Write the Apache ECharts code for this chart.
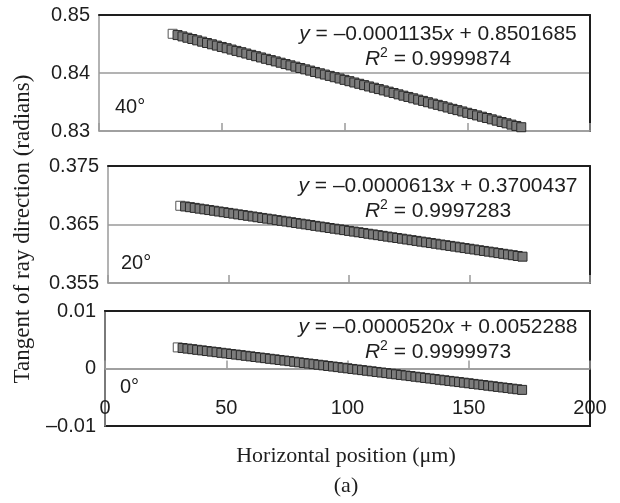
<!DOCTYPE html>
<html>
<head>
<meta charset="utf-8">
<script src="https://cdn.jsdelivr.net/npm/echarts@6/dist/echarts.min.js"></script>
<style>
  html, body { margin: 0; padding: 0; background: #fff; }
  #main { width: 620px; height: 503px; }
</style>
</head>
<body>
<div id="main"></div>
<script>
// horizontal position (um) of each measured point
var xPos = [30, 32, 34, 36, 38, 40, 42, 44, 46, 48,
  50, 52, 54, 56, 58, 60, 62, 64, 66, 68,
  70, 72, 74, 76, 78, 80, 82, 84, 86, 88,
  90, 92, 94, 96, 98, 100, 102, 104, 106, 108,
  110, 112, 114, 116, 118, 120, 122, 124, 126, 128,
  130, 132, 134, 136, 138, 140, 142, 144, 146, 148,
  150, 152, 154, 156, 158, 160, 162, 164, 166, 168,
  170, 172];

// tangent of ray direction, 40 degrees
var tan40 = [0.84676, 0.84654, 0.84631, 0.84608, 0.84586, 0.84563, 0.84540, 0.84517, 0.84495, 0.84472,
  0.84449, 0.84427, 0.84404, 0.84381, 0.84359, 0.84336, 0.84313, 0.84290, 0.84268, 0.84245,
  0.84222, 0.84200, 0.84177, 0.84154, 0.84132, 0.84109, 0.84086, 0.84063, 0.84041, 0.84018,
  0.83995, 0.83973, 0.83950, 0.83927, 0.83905, 0.83882, 0.83859, 0.83836, 0.83814, 0.83791,
  0.83768, 0.83746, 0.83723, 0.83700, 0.83678, 0.83655, 0.83632, 0.83609, 0.83587, 0.83564,
  0.83541, 0.83519, 0.83496, 0.83473, 0.83451, 0.83428, 0.83405, 0.83382, 0.83360, 0.83337,
  0.83314, 0.83292, 0.83269, 0.83246, 0.83224, 0.83201, 0.83178, 0.83155, 0.83133, 0.83110,
  0.83087, 0.83065];

// 20 degrees
var tan20 = [0.36820, 0.36808, 0.36796, 0.36784, 0.36771, 0.36759, 0.36747, 0.36735, 0.36722, 0.36710,
  0.36698, 0.36686, 0.36673, 0.36661, 0.36649, 0.36637, 0.36624, 0.36612, 0.36600, 0.36588,
  0.36575, 0.36563, 0.36551, 0.36539, 0.36526, 0.36514, 0.36502, 0.36490, 0.36477, 0.36465,
  0.36453, 0.36440, 0.36428, 0.36416, 0.36404, 0.36391, 0.36379, 0.36367, 0.36355, 0.36342,
  0.36330, 0.36318, 0.36306, 0.36293, 0.36281, 0.36269, 0.36257, 0.36244, 0.36232, 0.36220,
  0.36207, 0.36195, 0.36183, 0.36171, 0.36158, 0.36146, 0.36134, 0.36122, 0.36109, 0.36097,
  0.36085, 0.36073, 0.36060, 0.36048, 0.36036, 0.36024, 0.36011, 0.35999, 0.35987, 0.35975,
  0.35962, 0.35950];

// 0 degrees
var tan0 = [0.00367, 0.00356, 0.00346, 0.00336, 0.00325, 0.00315, 0.00304, 0.00294, 0.00284, 0.00273,
  0.00263, 0.00252, 0.00242, 0.00232, 0.00221, 0.00211, 0.00200, 0.00190, 0.00180, 0.00169,
  0.00159, 0.00148, 0.00138, 0.00128, 0.00117, 0.00107, 0.00096, 0.00086, 0.00076, 0.00065,
  0.00055, 0.00044, 0.00034, 0.00024, 0.00013, 0.00003, -0.00008, -0.00018, -0.00028, -0.00039,
  -0.00049, -0.00060, -0.00070, -0.00080, -0.00091, -0.00101, -0.00112, -0.00122, -0.00132, -0.00143,
  -0.00153, -0.00164, -0.00174, -0.00184, -0.00195, -0.00205, -0.00216, -0.00226, -0.00236, -0.00247,
  -0.00257, -0.00268, -0.00278, -0.00288, -0.00299, -0.00309, -0.00320, -0.00330, -0.00340, -0.00351,
  -0.00361, -0.00372];

// axis limits [min, max, interval]
var yRange40 = [0.83, 0.85, 0.01];
var yRange20 = [0.355, 0.375, 0.01];
var yRange0 = [-0.01, 0.01, 0.01];
var xRange = [0, 200, 50];

// fit text per panel
var fitSlope = ['0.0001135', '0.0000613', '0.0000520'];
var fitIntercept = ['0.8501685', '0.3700437', '0.0052288'];
var fitR2 = ['0.9999874', '0.9997283', '0.9999973'];
var angleLabels = ['40°', '20°', '0°'];

var sans = '"Liberation Sans", Arial, sans-serif';
var serif = '"Liberation Serif", "Times New Roman", serif';
var gray = '#9a9a9a';
var dark = '#1e1e1e';

var myChart = echarts.init(document.getElementById('main'), null, { renderer: 'canvas' });

var grids = [
  { left: 99, top: 15, width: 491, height: 116 },
  { left: 108, top: 166, width: 482, height: 117 },
  // lowest panel keeps a dark bottom border from the grid itself
  { left: 105, top: 311, width: 485, height: 115, show: true, borderColor: dark, borderWidth: 2 }
];
var yRanges = [yRange40, yRange20, yRange0];
var yDigits = [2, 3, 2];
var seriesData = [tan40, tan20, tan0];

var xAxes = [];
var yAxes = [];
var series = [];

grids.forEach(function (g, i) {
  var last = i === 2;
  // bottom value axis (gray, ticks pointing up); in the lowest panel it is lifted to y = 0
  xAxes.push({
    type: 'value', gridIndex: i, position: 'bottom',
    offset: last ? -g.height / 2 : 0,
    min: xRange[0], max: xRange[1], interval: xRange[2],
    axisLine: { show: true, onZero: false, lineStyle: { color: gray, width: 1.5 } },
    axisTick: { show: true, inside: true, length: 8, lineStyle: { color: gray, width: 1.5 } },
    axisLabel: { show: last, margin: 30, color: dark, fontFamily: sans, fontSize: 20 },
    splitLine: { show: false }
  });
  // top border
  xAxes.push({
    type: 'value', gridIndex: i, position: 'top',
    min: xRange[0], max: xRange[1],
    axisLine: { show: true, onZero: false, lineStyle: { color: dark, width: 2 } },
    axisTick: { show: false }, axisLabel: { show: false }, splitLine: { show: false }
  });
  var r = yRanges[i];
  yAxes.push({
    type: 'value', gridIndex: i, position: 'left',
    min: r[0], max: r[1], interval: r[2],
    axisLine: { show: true, onZero: false, lineStyle: { color: gray, width: 1.5 } },
    axisTick: { show: false },
    axisLabel: {
      margin: 9, color: dark, fontFamily: sans, fontSize: 20,
      formatter: function (v) {
        if (Math.abs(v) < 1e-9) return '0';
        return v.toFixed(yDigits[i]).replace('-', '–');
      }
    },
    splitLine: { show: true, showMinLine: !last, showMaxLine: false, lineStyle: { color: gray, width: 1.5 } }
  });
  yAxes.push({
    type: 'value', gridIndex: i, position: 'right',
    min: r[0], max: r[1],
    axisLine: { show: true, onZero: false, lineStyle: { color: dark, width: 2 } },
    axisTick: { show: false }, axisLabel: { show: false }, splitLine: { show: false }
  });
});

seriesData.forEach(function (arr, i) {
  series.push({
    type: 'scatter',
    xAxisIndex: i * 2,
    yAxisIndex: i * 2,
    symbol: 'rect',
    symbolSize: 9,
    itemStyle: { color: '#7c7c7c', borderColor: '#2a2a2a', borderWidth: 1, opacity: 1 },
    data: xPos.map(function (x, k) {
      // first marker shows a white face in the original
      if (k === 0) return { value: [x, arr[k]], itemStyle: { color: '#fff', borderColor: '#555' } };
      return [x, arr[k]];
    }),
    animation: false
  });
});

// equation / label positions (pixels)
var eqY = [34, 186, 327];
var eqX = 438;
var angPos = [[115, 107], [121, 263], [120, 387]];

var graphics = [];
for (var i = 0; i < 3; i++) {
  graphics.push({
    type: 'text', x: eqX, y: eqY[i], z: 100,
    style: {
      text: '{i|y} = –' + fitSlope[i] + '{i|x} + ' + fitIntercept[i],
      fontFamily: sans, fontSize: 21, fill: dark,
      textAlign: 'center', textVerticalAlign: 'middle',
      rich: {
        i: { fontFamily: sans, fontSize: 21, fontStyle: 'italic', fill: dark }
      }
    }
  });
  graphics.push({
    type: 'text', x: eqX, y: eqY[i] + 25, z: 100,
    style: {
      text: '{i|R}{s|2}{n| = ' + fitR2[i] + '}',
      fontFamily: sans, fontSize: 21, fill: dark,
      textAlign: 'center', textVerticalAlign: 'middle',
      rich: {
        i: { fontFamily: sans, fontSize: 21, fontStyle: 'italic', fill: dark, lineHeight: 26 },
        s: { fontFamily: sans, fontSize: 14, fill: dark, verticalAlign: 'top', lineHeight: 26 },
        n: { fontFamily: sans, fontSize: 21, fill: dark, lineHeight: 26 }
      }
    }
  });
  graphics.push({
    type: 'text', x: angPos[i][0], y: angPos[i][1], z: 100,
    style: {
      text: angleLabels[i], fontFamily: sans, fontSize: 20, fill: dark,
      textAlign: 'left', textVerticalAlign: 'middle'
    }
  });
}
// axis titles
graphics.push({
  type: 'text', x: 23, y: 229, rotation: Math.PI / 2,
  style: {
    text: 'Tangent of ray direction (radians)', fontFamily: serif, fontSize: 23, fill: dark,
    textAlign: 'center', textVerticalAlign: 'middle'
  }
});
graphics.push({
  type: 'text', x: 346, y: 456,
  style: {
    text: 'Horizontal position (μm)', fontFamily: serif, fontSize: 22, fill: dark,
    textAlign: 'center', textVerticalAlign: 'middle'
  }
});
graphics.push({
  type: 'text', x: 346, y: 486,
  style: {
    text: '(a)', fontFamily: serif, fontSize: 22, fill: dark,
    textAlign: 'center', textVerticalAlign: 'middle'
  }
});

var option = {
  backgroundColor: '#fff',
  animation: false,
  grid: grids,
  xAxis: xAxes,
  yAxis: yAxes,
  series: series,
  graphic: graphics
};

myChart.setOption(option);
</script>
</body>
</html>
